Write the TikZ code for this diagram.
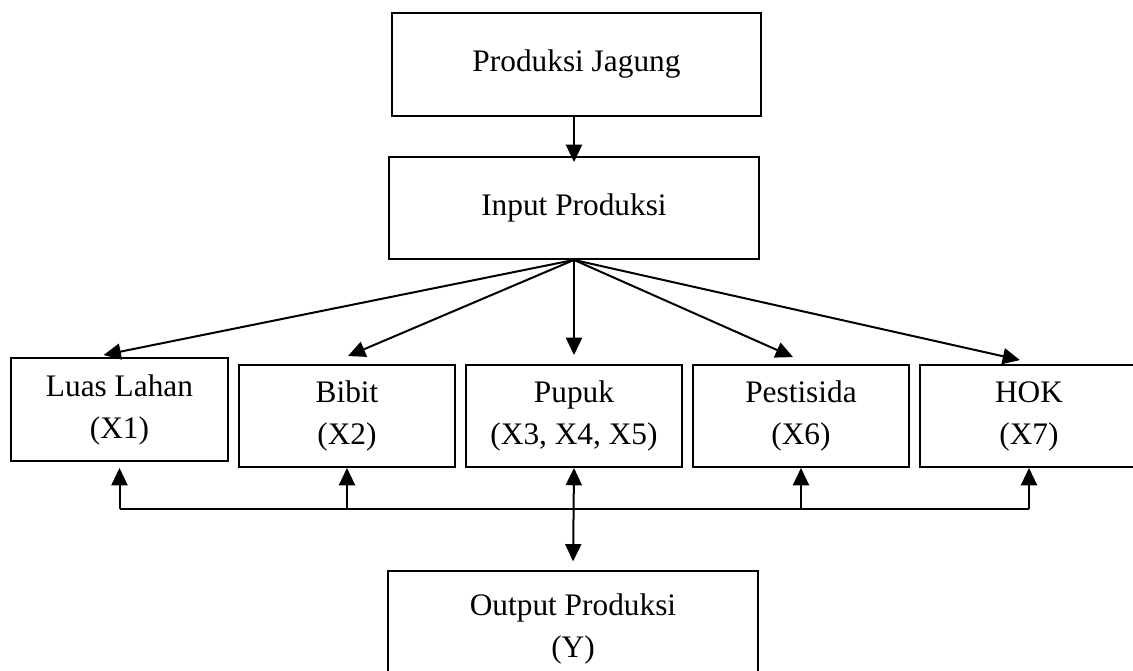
\documentclass[tikz,border=0pt]{standalone}
\usepackage{fontspec}
\setmainfont{Liberation Serif}
\usepackage{tikz}
\usetikzlibrary{arrows.meta,calc}

\tikzset{
  box/.style={draw, line width=1.4pt, align=center, inner sep=0pt,
    font=\fontsize{23.5}{31.5}\selectfont},
  arr/.style={-{Triangle[length=13pt,width=12pt]}, line width=1.5pt},
  darr/.style={{Triangle[length=13pt,width=12pt]}-{Triangle[length=13pt,width=12pt]}, line width=1.5pt},
}

\begin{document}
\begin{tikzpicture}[x=0.75pt,y=-0.75pt]
   \useasboundingbox (0,0) rectangle (1133,671);
   \clip (0,0) rectangle (1133,671);
   \node[box, minimum width=276.75pt, minimum height=77.25pt] (jagung) at (576.5,64.5) {Produksi Jagung};
   \node[box, minimum width=277.5pt, minimum height=76.5pt] (inp) at (574,208) {Input Produksi};
   \node[box, minimum width=162.75pt, minimum height=77.25pt] (luas) at (119.5,409.5) {Luas Lahan\\(X1)};
   \node[box, minimum width=162pt, minimum height=76.5pt] (bibit) at (347,416) {Bibit\\(X2)};
   \node[box, minimum width=162pt, minimum height=76.5pt] (pupuk) at (574,416) {Pupuk\\(X3, X4, X5)};
   \node[box, minimum width=162pt, minimum height=76.5pt] (pes) at (801,416) {Pestisida\\(X6)};
   \node[box, minimum width=163.5pt, minimum height=76.5pt] (hok) at (1029,416) {HOK\\(X7)};
   \node[box, minimum width=277.5pt, minimum height=86.25pt] (out) at (573,628.5) {Output Produksi\\(Y)};
   \coordinate (bus) at (574,509);
   % top part
   \draw[arr, shorten >=-4.5pt] (inp.north |- jagung.south) -- (inp.north);
   \path
    (inp.south) edge[arr] ($(luas.north)+(-16,-2)$)
                edge[arr] ($(bibit.north)+(1,-8)$)
                edge[arr] ($(pupuk.north)+(0,-9)$)
                edge[arr] ($(pes.north)+(-8,-7)$)
                edge[arr] ($(hok.north)+(-9,-4)$);
   % bottom part
   \draw[line width=1.5pt] (luas.south |- bus) -- (hok.south |- bus);
   \draw[arr, shorten >=4.5pt] (luas.south |- bus) -- (luas.south);
   \draw[arr] (bibit.south |- bus) -- (bibit.south);
   \draw[arr] (pes.south |- bus) -- (pes.south);
   \draw[arr] (hok.south |- bus) -- (hok.south);
   \draw[darr, shorten >=6.5pt] (pupuk.south) -- (out.north);
\end{tikzpicture}
\end{document}
